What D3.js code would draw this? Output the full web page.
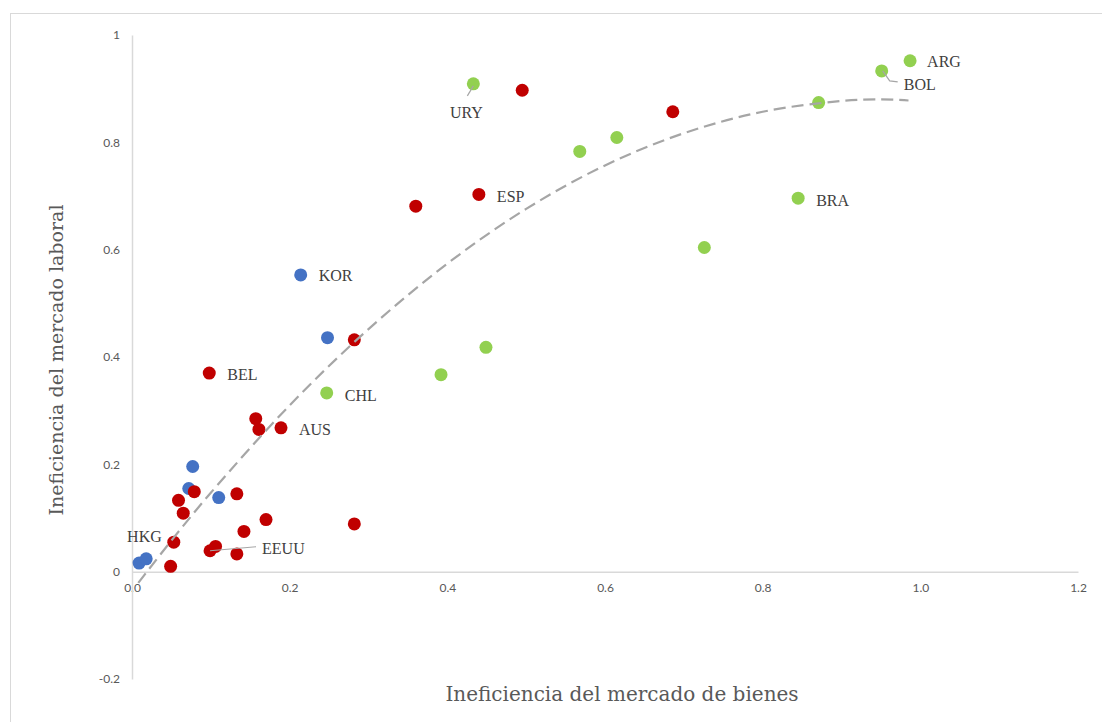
<!DOCTYPE html>
<html>
<head>
<meta charset="utf-8">
<script src="https://cdn.jsdelivr.net/npm/d3@7"></script>
<style>
  body { margin: 0; background: #fff; }
  svg { display: block; }
</style>
</head>
<body>
<svg id="chart" width="1102" height="722"></svg>
<script>
// ---- data ----
const blueX = [0.009, 0.018, 0.077, 0.072, 0.110, 0.214, 0.248];
const blueY = [0.016, 0.024, 0.196, 0.155, 0.138, 0.553, 0.436];

const redX = [0.079, 0.059, 0.065, 0.133, 0.170, 0.282, 0.142, 0.053, 0.099, 0.106, 0.133, 0.049, 0.098, 0.157, 0.161, 0.189, 0.282, 0.360, 0.440, 0.495, 0.686];
const redY = [0.149, 0.133, 0.109, 0.145, 0.097, 0.089, 0.075, 0.055, 0.039, 0.047, 0.033, 0.010, 0.370, 0.285, 0.265, 0.268, 0.432, 0.681, 0.703, 0.897, 0.857];

const greenX = [0.247, 0.392, 0.449, 0.433, 0.568, 0.615, 0.726, 0.871, 0.845, 0.951, 0.987];
const greenY = [0.333, 0.367, 0.418, 0.909, 0.783, 0.809, 0.604, 0.874, 0.696, 0.933, 0.952];

// trendline
const trendX = [0.008, 0.05, 0.1, 0.2, 0.3, 0.4, 0.5, 0.6, 0.7, 0.8, 0.9, 0.95, 0.985];
const trendY = [-0.021, 0.058, 0.147, 0.310, 0.452, 0.574, 0.676, 0.757, 0.817, 0.857, 0.877, 0.880, 0.878];

// labelled countries: name, series, index in series
const labelNames  = ["KOR", "BEL", "CHL", "AUS", "ESP", "URY", "ARG", "BOL", "BRA", "HKG", "EEUU"];
const labelSeries = ["blue", "red", "green", "red", "red", "green", "green", "green", "green", "red", "red"];
const labelIndex  = [5, 12, 0, 15, 18, 3, 10, 9, 8, 7, 8];

const xTicks = [0, 0.2, 0.4, 0.6, 0.8, 1.0, 1.2];
const xTickLabels = ["0.0", "0.2", "0.4", "0.6", "0.8", "1.0", "1.2"];
const yTicks = [-0.2, 0, 0.2, 0.4, 0.6, 0.8, 1];
const yTickLabels = ["-0.2", "0", "0.2", "0.4", "0.6", "0.8", "1"];

const xTitle = "Ineficiencia del mercado de bienes";
const yTitle = "Ineficiencia del mercado laboral";

// ---- layout / style (not data) ----
const colors = { blue: "#4472c4", red: "#c00000", green: "#92d050" };
const labelLayout = {
  KOR:  { dx: 18, dy: 1, anchor: "start" },
  BEL:  { dx: 18, dy: 1, anchor: "start" },
  CHL:  { dx: 18, dy: 2, anchor: "start" },
  AUS:  { dx: 18, dy: 2, anchor: "start" },
  ESP:  { dx: 18, dy: 2, anchor: "start" },
  URY:  { dx: -7, dy: 29, anchor: "middle", leader: [[0, 2], [-6, 12]] },
  ARG:  { dx: 17, dy: 1, anchor: "start" },
  BOL:  { dx: 22, dy: 13, anchor: "start", leader: [[1, 0], [8, 10], [16, 11]] },
  BRA:  { dx: 18, dy: 2, anchor: "start" },
  HKG:  { dx: -12, dy: -6, anchor: "end" },
  EEUU: { dx: 52, dy: -2, anchor: "start", leader: [[0, 0], [46, -4]] }
};

const svg = d3.select("#chart");
const W = 1102, H = 722;

svg.append("rect")
  .attr("x", 10.5).attr("y", 13.5)
  .attr("width", W + 5).attr("height", H + 5)
  .attr("fill", "none").attr("stroke", "#d9d9d9").attr("stroke-width", 1);

const x = d3.scaleLinear().domain([0, 1.2]).range([132, 1078]);
const y = d3.scaleLinear().domain([-0.2, 1]).range([679, 35]);

const tickFont = "Lato, 'Open Sans', sans-serif";
const serif = "'Liberation Serif', 'DejaVu Serif', serif";
const titleSerif = "'DejaVu Serif', serif";

const xAxis = d3.axisBottom(x)
  .tickValues(xTicks)
  .tickFormat((d, i) => xTickLabels[i])
  .tickSize(0).tickSizeOuter(0).tickPadding(12);
const gx = svg.append("g").attr("transform", `translate(0,${y(0)})`).call(xAxis);
gx.select(".domain").attr("stroke", "#d9d9d9").attr("stroke-width", 1.5);
gx.selectAll("text").attr("fill", "#595959").style("font-family", tickFont).style("font-size", "12px");

const yAxis = d3.axisLeft(y)
  .tickValues(yTicks)
  .tickFormat((d, i) => yTickLabels[i])
  .tickSize(0).tickSizeOuter(0).tickPadding(12);
const gy = svg.append("g").attr("transform", `translate(${x(0)},0)`).call(yAxis);
gy.select(".domain").attr("stroke", "#d9d9d9").attr("stroke-width", 1.5);
gy.selectAll("text").attr("fill", "#595959").style("font-family", tickFont).style("font-size", "12px");

svg.append("text")
  .attr("x", 622).attr("y", 701)
  .attr("text-anchor", "middle")
  .attr("fill", "#595959")
  .style("font-family", titleSerif).style("font-size", "20px")
  .text(xTitle);

svg.append("text")
  .attr("transform", "translate(63,360) rotate(-90)")
  .attr("text-anchor", "middle")
  .attr("fill", "#595959")
  .style("font-family", titleSerif).style("font-size", "19px")
  .text(yTitle);

const series = {
  blue: blueX.map((v, i) => ({ x: v, y: blueY[i] })),
  red: redX.map((v, i) => ({ x: v, y: redY[i] })),
  green: greenX.map((v, i) => ({ x: v, y: greenY[i] }))
};
["blue", "red", "green"].forEach(k => {
  svg.append("g").selectAll("circle")
    .data(series[k]).join("circle")
    .attr("cx", d => x(d.x)).attr("cy", d => y(d.y))
    .attr("r", 6.5)
    .attr("fill", colors[k]);
});

const labelG = svg.append("g");
labelNames.forEach((name, i) => {
  const p = series[labelSeries[i]][labelIndex[i]];
  const px = x(p.x), py = y(p.y);
  const L = labelLayout[name];
  if (L.leader) {
    labelG.append("path")
      .attr("d", d3.line()(L.leader.map(q => [px + q[0], py + q[1]])))
      .attr("fill", "none").attr("stroke", "#a6a6a6").attr("stroke-width", 1.2);
  }
  labelG.append("text")
    .attr("x", px + L.dx).attr("y", py + L.dy)
    .attr("dy", "0.35em")
    .attr("text-anchor", L.anchor)
    .attr("fill", "#404040")
    .style("font-family", serif).style("font-size", "16px")
    .text(name);
});

const trend = trendX.map((v, i) => [v, trendY[i]]);
svg.append("path")
  .datum(trend)
  .attr("d", d3.line().x(d => x(d[0])).y(d => y(d[1])).curve(d3.curveCatmullRom))
  .attr("fill", "none")
  .attr("stroke", "#a6a6a6")
  .attr("stroke-width", 2.2)
  .attr("stroke-dasharray", "12,6");
</script>
</body>
</html>
